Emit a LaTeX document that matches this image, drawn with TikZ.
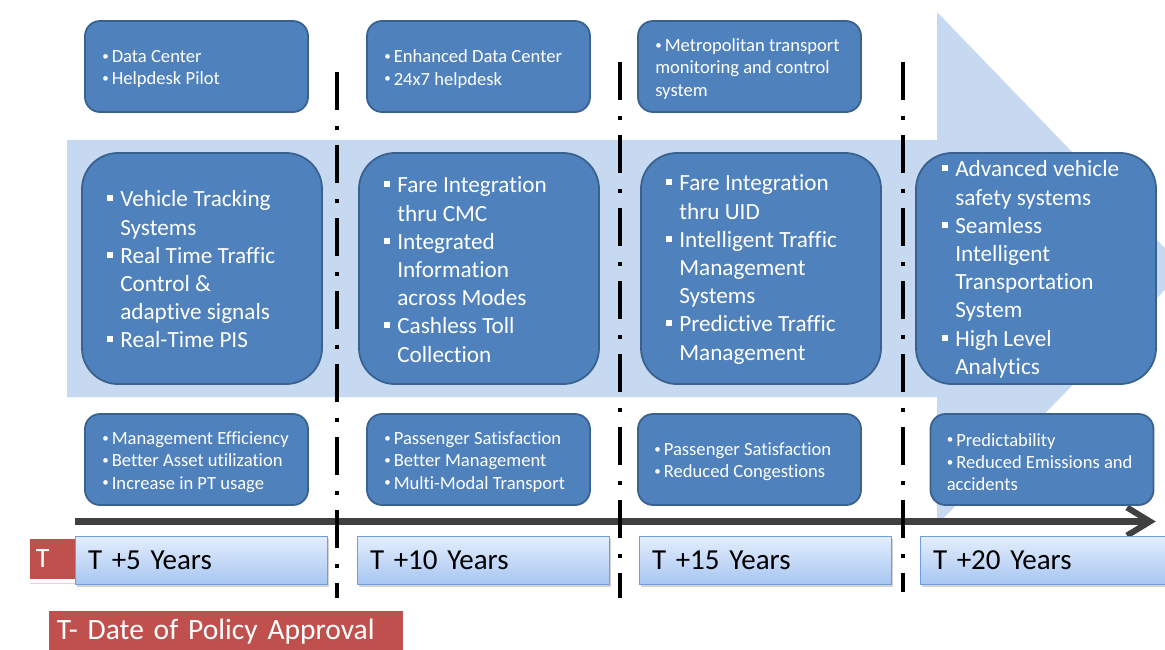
\documentclass[tikz,border=0pt]{standalone}
\usepackage{fontspec}
\setmainfont{Carlito}[Ligatures=NoCommon]
\usetikzlibrary{shadows,calc}

\definecolor{boxblue}{HTML}{4F81BD}
\definecolor{boxedge}{HTML}{3A6290}
\definecolor{flowblue}{HTML}{C6D9F1}
\definecolor{yeartop}{HTML}{E4EEFC}
\definecolor{yearbot}{HTML}{A7C6F2}
\definecolor{yearedge}{HTML}{6F9EDC}
\definecolor{markred}{HTML}{C0504D}
\definecolor{axisgray}{HTML}{404040}

% square bullet for the main boxes, and its hanging indent
\newcommand\sqb{\makebox[13pt][l]{\rule[5.5pt]{6pt}{6pt}}}
\newcommand\contln{\hspace*{13pt}}
% small round bullet for the small boxes
\newcommand\dotb{\makebox[9.5pt][l]{\raisebox{2.2pt}{\fontsize{13}{13}\selectfont •}}}

\tikzset{
  smallbox/.style={draw=boxedge, line width=1.8pt, fill=boxblue,
    rounded corners=15pt, minimum width=223pt, minimum height=91pt, inner sep=0pt},
  mainbox/.style={draw=boxedge, line width=1.8pt, fill=boxblue,
    rounded corners=36pt, minimum width=240pt, minimum height=231pt, inner sep=0pt},
  smalltext/.style={anchor=west, inner sep=0pt, align=left, text=white, yshift=-2.5pt,
    font={\fontsize{18.6}{22.2}\selectfont}},
  maintext/.style={anchor=west, inner sep=0pt, align=left, text=white, yshift=-1pt,
    font={\fontsize{23.2}{28.2}\selectfont}},
  yearbox/.style={draw=yearedge, line width=1pt, top color=yeartop, bottom color=yearbot,
    minimum width=252pt, minimum height=48pt, inner xsep=13pt, inner ysep=0pt,
    text width=226pt, align=left, font={\fontsize{29}{34}\selectfont},
    drop shadow={opacity=0.35, shadow xshift=2pt, shadow yshift=-3pt}},
  redtag/.style={draw=white, line width=3.5pt, fill=markred, text=white,
    inner sep=0pt, drop shadow={opacity=0.3, shadow xshift=2pt, shadow yshift=-3pt}},
  phase/.style={line width=4pt, black, dash pattern=on 38pt off 16pt on 4pt off 15pt},
}

\begin{document}
\begin{tikzpicture}[x=1pt, y=-1pt]
\useasboundingbox (0,0) rectangle (1165,649);

% broad background arrow
\fill[flowblue] (67,140) -- (937,140) -- (937,12) -- (1185,269)
  -- (937,525) -- (937,397) -- (67,397) -- cycle;

% phase separators
\coordinate (s1a) at (337,72);  \coordinate (s1b) at (337,598);
\coordinate (s2a) at (620,62);  \coordinate (s2b) at (620,598);
\coordinate (s3a) at (903,62);  \coordinate (s3b) at (903,592);

% time axis
\coordinate (ax0) at (75,521.5);
\coordinate (ax1) at (1150,521.5);
\draw[axisgray, line width=7pt] (ax0) -- (ax1);
\draw[axisgray, line width=6pt, line join=miter, line cap=butt]
  ($(ax1)+(-23,-14)$) -- (ax1) -- ($(ax1)+(-23,14)$);

\draw[phase] (s1a) -- (s1b);
\draw[phase] (s2a) -- (s2b);
\draw[phase] (s3a) -- (s3b);

% infrastructure (top row)
\node[smallbox] (ta) at (196.5,66.5) {};
\node[smalltext] (tat) at ([xshift=18pt]ta.west) {\dotb Data Center\\\dotb Helpdesk Pilot};
\node[smallbox] (tb) at (478.5,66.5) {};
\node[smalltext] (tbt) at ([xshift=18pt]tb.west) {\dotb Enhanced Data Center\\\dotb 24x7 helpdesk};
\node[smallbox] (tc) at (749.5,66.5) {};
\node[smalltext] (tct) at ([xshift=18pt]tc.west) {\dotb Metropolitan transport\\monitoring and control\\system};

% systems (middle row)
\node[mainbox] (ma) at (202,268.5) {};
\node[maintext] (mat) at ([xshift=26pt]ma.west)
  {\sqb Vehicle Tracking\\\contln Systems\\\sqb Real Time Traffic\\\contln Control \&\\\contln adaptive signals\\\sqb Real-Time PIS};
\node[mainbox] (mb) at (479,268.5) {};
\node[maintext] (mbt) at ([xshift=26pt]mb.west)
  {\sqb Fare Integration\\\contln thru CMC\\\sqb Integrated\\\contln Information\\\contln across Modes\\\sqb Cashless Toll\\\contln Collection};
\node[mainbox] (mc) at (761,268.5) {};
\node[maintext] (mct) at ([xshift=26pt]mc.west)
  {\sqb Fare Integration\\\contln thru UID\\\sqb Intelligent Traffic\\\contln Management\\\contln Systems\\\sqb Predictive Traffic\\\contln Management};
\node[mainbox] (md) at (1036,268.5) {};
\node[maintext] (mdt) at ([xshift=27pt]md.west)
  {\sqb Advanced vehicle\\\contln safety systems\\\sqb Seamless\\\contln Intelligent\\\contln Transportation\\\contln System\\\sqb High Level\\\contln Analytics};

% outcomes (bottom row)
\node[smallbox] (ba) at (196.5,459.5) {};
\node[smalltext] (bat) at ([xshift=18pt]ba.west)
  {\dotb Management Efficiency\\\dotb Better Asset utilization\\\dotb Increase in PT usage};
\node[smallbox] (bb) at (478.5,459.5) {};
\node[smalltext] (bbt) at ([xshift=18pt]bb.west)
  {\dotb Passenger Satisfaction\\\dotb Better Management\\\dotb Multi-Modal Transport};
\node[smallbox] (bc) at (749.5,459.5) {};
\node[smalltext] (bct) at ([xshift=17pt]bc.west)
  {\dotb Passenger Satisfaction\\\dotb Reduced Congestions};
\node[smallbox] (bd) at (1042,459.5) {};
\node[smalltext] (bdt) at ([xshift=17pt]bd.west)
  {\dotb Predictability\\\dotb Reduced Emissions and\\accidents};

% start marker and period labels
\node[redtag, minimum width=57pt, minimum height=44pt, anchor=north west,
  font={\fontsize{28}{32}\selectfont}, text width=41pt, inner xsep=8pt, align=left]
  (t0) at (26,535) {T};
\node[yearbox] (y1) at (201,560) {T +5 Years};
\node[yearbox] (y2) at (483,560) {T +10 Years};
\node[yearbox] (y3) at (765,560) {T +15 Years};
\node[yearbox] (y4) at (1046,560) {T +20 Years};

% legend
\node[redtag, minimum width=358pt, minimum height=50pt, anchor=north west,
  font={\fontsize{29.5}{34}\selectfont}, text width=338pt, inner xsep=10pt, align=left,
  text depth=0pt]
  (lg) at (45,607) {\raisebox{9pt}{T- Date of Policy Approval}};
\end{tikzpicture}
\end{document}
